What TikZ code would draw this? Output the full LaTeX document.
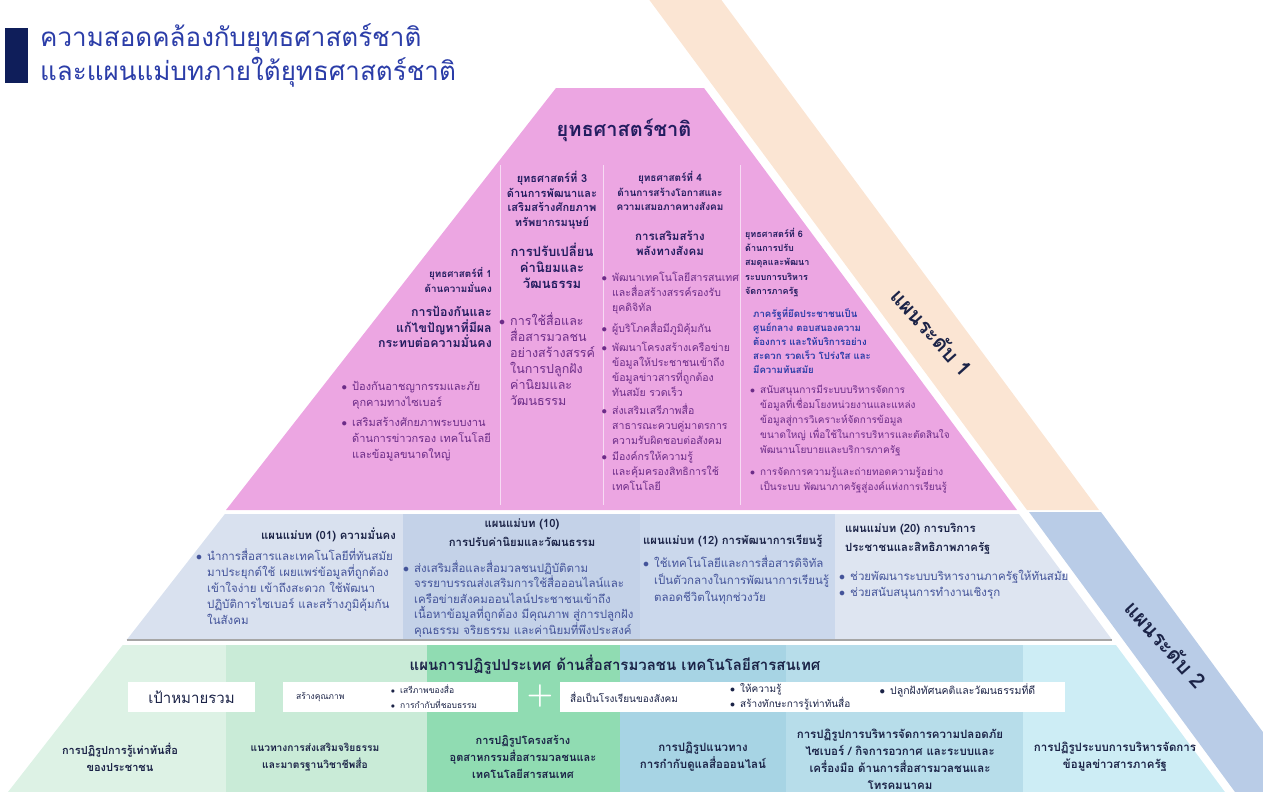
\documentclass[tikz,border=0pt]{standalone}
\usepackage{fontspec}
\newfontfamily\thaifont[Script=Thai]{Loma}
\usetikzlibrary{positioning}
\tikzset{>=latex}
\definecolor{pinkbg}{HTML}{ECA6E2}
\definecolor{peachbg}{HTML}{FBE5D3}
\definecolor{stripblue}{HTML}{B9CCE7}
\definecolor{midA}{HTML}{D9E1EF}
\definecolor{midB}{HTML}{C4D2E8}
\definecolor{midC}{HTML}{CBD8EC}
\definecolor{midD}{HTML}{DEE5F1}
\definecolor{lowA}{HTML}{DDF2E5}
\definecolor{lowB}{HTML}{C9EBD7}
\definecolor{lowC}{HTML}{90DCB2}
\definecolor{lowD}{HTML}{A7D4E4}
\definecolor{lowE}{HTML}{B7DDEA}
\definecolor{lowF}{HTML}{CDEDF5}
\definecolor{titleblue}{HTML}{2B3DA8}
\definecolor{barnavy}{HTML}{0F1E5A}
\definecolor{navytxt}{HTML}{231D60}
\definecolor{purptxt}{HTML}{6C2C88}
\definecolor{midtxt}{HTML}{44549A}
\definecolor{darktxt}{HTML}{1B2347}
\newcommand{\bul}{\llap{$\bullet$\hspace{5pt}}}
\newcommand{\fsz}[2]{\thaifont\fontsize{#1}{#2}\selectfont}

\begin{document}
\begin{tikzpicture}[x=1pt, y=-1pt, inner sep=0pt,
  ttl/.style = {font=\fsz{26}{34}, text=titleblue, anchor=west},
  apex/.style = {font=\bfseries\fsz{20}{24}, text=navytxt},
  shdr/.style = {font=\bfseries\fsz{9}{14.2}, text=navytxt},
  sgoal/.style = {font=\bfseries\fsz{11.5}{15}, text=navytxt},
  sbul/.style = {font=\fsz{10.5}{14.8}, text=purptxt, align=left, anchor=north west},
  mhdr/.style = {font=\bfseries\fsz{11.3}{19}, text=darktxt},
  mbul/.style = {font=\fsz{11.5}{15.5}, text=midtxt, align=left, anchor=north west},
  btxt/.style = {font=\bfseries\fsz{11}{17}, text=darktxt, align=center},
  wbox/.style = {fill=white, minimum height=30pt},
  small/.style = {font=\fsz{8.5}{15}, text=darktxt, align=left},
  lvl/.style = {font=\bfseries\fsz{21}{24}, text=darktxt, rotate=-48}
]
\useasboundingbox (0,0) rectangle (1263,792);
\clip (0,0) rectangle (1263,792);

% shapes
\fill[barnavy] (5,28) rectangle (28,83);
\fill[pinkbg] (556,88) -- (704,88) -- (1017,510) -- (226,510) -- cycle;
\fill[peachbg] (642,-10) -- (714,-10) -- (1099,510) -- (1027,510) -- cycle;
\fill[stripblue] (1029,512) -- (1101,512) -- (1307,792) -- (1235,792) -- cycle;
\foreach \x in {500,603,740}
  \draw[white!60!pinkbg, line width=1pt] (\x,165) -- (\x,505);

\begin{scope}
  \clip (224.9,514) -- (1019,514) -- (1112.2,640) -- (126.6,640) -- cycle;
  \fill[midA] (0,514) rectangle (403,640);
  \fill[midB] (403,514) rectangle (640,640);
  \fill[midC] (640,514) rectangle (835,640);
  \fill[midD] (835,514) rectangle (1263,640);
\end{scope}
\draw[gray!70, line width=1.5pt] (126.6,640) -- (1112.2,640);

\begin{scope}
  \clip (122.7,645) -- (1115.9,645) -- (1224.9,792) -- (8,792) -- cycle;
  \fill[lowA] (0,645) rectangle (226,792);
  \fill[lowB] (226,645) rectangle (427,792);
  \fill[lowC] (427,645) rectangle (620,792);
  \fill[lowD] (620,645) rectangle (786,792);
  \fill[lowE] (786,645) rectangle (1023,792);
  \fill[lowF] (1023,645) rectangle (1263,792);
\end{scope}

% title
\node[ttl] (title1) at (40,38) {ความสอดคล้องกับยุทธศาสตร์ชาติ};
\node[ttl] (title2) at (40,72) {และแผนแม่บทภายใต้ยุทธศาสตร์ชาติ};
\node[apex] (natstrat) at (624,130) {ยุทธศาสตร์ชาติ};

% strategy 1
\node[shdr, font=\bfseries\fsz{9.8}{15}, align=right, anchor=north east] (s1hdr) at (492,267) {ยุทธศาสตร์ที่ 1\\ด้านความมั่นคง};
\node[sgoal, font=\bfseries\fsz{12.4}{15.5}, align=right, anchor=north east] (s1goal) at (492,306) {การป้องกันและ\\แก้ไขปัญหาที่มีผล\\กระทบต่อความมั่นคง};
\node[sbul, font=\fsz{11}{16}] (s1b1) at (352,381) {\bul ป้องกันอาชญากรรมและภัย\\คุกคามทางไซเบอร์};
\node[sbul, font=\fsz{11}{16}, below=8pt of s1b1.south west, anchor=north west] (s1b2) {\bul เสริมสร้างศักยภาพระบบงาน\\ด้านการข่าวกรอง เทคโนโลยี\\และข้อมูลขนาดใหญ่};

% strategy 3
\node[shdr, font=\bfseries\fsz{11}{14.7}, align=center, anchor=north] (s3hdr) at (552,171) {ยุทธศาสตร์ที่ 3\\ด้านการพัฒนาและ\\เสริมสร้างศักยภาพ\\ทรัพยากรมนุษย์};
\node[sgoal, font=\bfseries\fsz{13}{16}, align=center, anchor=north] (s3goal) at (552,243) {การปรับเปลี่ยน\\ค่านิยมและ\\วัฒนธรรม};
\node[sbul, font=\fsz{12.5}{16}] (s3b1) at (510,312) {\bul การใช้สื่อและ\\สื่อสารมวลชน\\อย่างสร้างสรรค์\\ในการปลูกฝัง\\ค่านิยมและ\\วัฒนธรรม};

% strategy 4
\node[shdr, font=\bfseries\fsz{10}{14.7}, align=center, anchor=north] (s4hdr) at (670,171) {ยุทธศาสตร์ที่ 4\\ด้านการสร้างโอกาสและ\\ความเสมอภาคทางสังคม};
\node[sgoal, align=center, anchor=north] (s4goal) at (670,231) {การเสริมสร้าง\\พลังทางสังคม};
\node[sbul] (s4b1) at (612,272) {\bul พัฒนาเทคโนโลยีสารสนเทศ\\และสื่อสร้างสรรค์รองรับ\\ยุคดิจิทัล};
\node[sbul, below=7pt of s4b1.south west, anchor=north west] (s4b2) {\bul ผู้บริโภคสื่อมีภูมิคุ้มกัน};
\node[sbul, below=7pt of s4b2.south west, anchor=north west] (s4b3) {\bul พัฒนาโครงสร้างเครือข่าย\\ข้อมูลให้ประชาชนเข้าถึง\\ข้อมูลข่าวสารที่ถูกต้อง\\ทันสมัย รวดเร็ว};
\node[sbul, below=7pt of s4b3.south west, anchor=north west] (s4b4) {\bul ส่งเสริมเสรีภาพสื่อ\\สาธารณะควบคู่มาตรการ\\ความรับผิดชอบต่อสังคม};
\node[sbul, below=7pt of s4b4.south west, anchor=north west] (s4b5) {\bul มีองค์กรให้ความรู้\\และคุ้มครองสิทธิการใช้\\เทคโนโลยี};

% strategy 6
\node[shdr, align=left, anchor=north west] (s6hdr) at (745,228) {ยุทธศาสตร์ที่ 6\\ด้านการปรับ\\สมดุลและพัฒนา\\ระบบการบริหาร\\จัดการภาครัฐ};
\node[shdr, font=\bfseries\fsz{9.6}{14}, text=titleblue, align=left, anchor=north west] (s6goal) at (753,307) {ภาครัฐที่ยึดประชาชนเป็น\\ศูนย์กลาง ตอบสนองความ\\ต้องการ และให้บริการอย่าง\\สะดวก รวดเร็ว โปร่งใส และ\\มีความทันสมัย};
\node[sbul, font=\fsz{10}{15}] (s6b1) at (760,385) {\bul สนับสนุนการมีระบบบริหารจัดการ\\ข้อมูลที่เชื่อมโยงหน่วยงานและแหล่ง\\ข้อมูลสู่การวิเคราะห์จัดการข้อมูล\\ขนาดใหญ่ เพื่อใช้ในการบริหารและตัดสินใจ\\พัฒนานโยบายและบริการภาครัฐ};
\node[sbul, font=\fsz{10}{15.5}, below=10pt of s6b1.south west, anchor=north west] (s6b2) {\bul การจัดการความรู้และถ่ายทอดความรู้อย่าง\\เป็นระบบ พัฒนาภาครัฐสู่องค์แห่งการเรียนรู้};

% master plans
\node[mhdr, anchor=east] (mp01hdr) at (396,535) {แผนแม่บท (01) ความมั่นคง};
\node[mbul, font=\fsz{11.5}{16}] (mp01b) at (207,548) {\bul นำการสื่อสารและเทคโนโลยีที่ทันสมัย\\มาประยุกต์ใช้ เผยแพร่ข้อมูลที่ถูกต้อง\\เข้าใจง่าย เข้าถึงสะดวก ใช้พัฒนา\\ปฏิบัติการไซเบอร์ และสร้างภูมิคุ้มกัน\\ในสังคม};
\node[mhdr, align=center, anchor=north] (mp10hdr) at (522,519) {แผนแม่บท (10)\\การปรับค่านิยมและวัฒนธรรม};
\node[mbul] (mp10b) at (414,560) {\bul ส่งเสริมสื่อและสื่อมวลชนปฏิบัติตาม\\จรรยาบรรณส่งเสริมการใช้สื่อออนไลน์และ\\เครือข่ายสังคมออนไลน์ประชาชนเข้าถึง\\เนื้อหาข้อมูลที่ถูกต้อง มีคุณภาพ สู่การปลูกฝัง\\คุณธรรม จริยธรรม และค่านิยมที่พึงประสงค์};
\node[mhdr, anchor=west] (mp12hdr) at (643,541) {แผนแม่บท (12) การพัฒนาการเรียนรู้};
\node[mbul, font=\fsz{11.5}{17}] (mp12b) at (654,555) {\bul ใช้เทคโนโลยีและการสื่อสารดิจิทัล\\เป็นตัวกลางในการพัฒนาการเรียนรู้\\ตลอดชีวิตในทุกช่วงวัย};
\node[mhdr, align=left, anchor=north west] (mp20hdr) at (845,523) {แผนแม่บท (20) การบริการ\\ประชาชนและสิทธิภาพภาครัฐ};
\node[mbul] (mp20b) at (850,570) {\bul ช่วยพัฒนาระบบบริหารงานภาครัฐให้ทันสมัย\\\bul ช่วยสนับสนุนการทำงานเชิงรุก};

% reform plan
\node[font=\bfseries\fsz{15}{18}, text=darktxt] (reformhdr) at (615,665) {แผนการปฏิรูปประเทศ ด้านสื่อสารมวลชน เทคโนโลยีสารสนเทศ};
\node[wbox, minimum width=127pt, font=\fsz{15}{18}, text=darktxt] (goalbox) at (191.5,697) {เป้าหมายรวม};
\node[wbox, minimum width=235pt] (qualbox) at (400.5,697) {};
\node[small, anchor=west] (qual) at (296,697) {สร้างคุณภาพ};
\node[small, anchor=west] (qualitems) at (400,697) {\bul เสรีภาพของสื่อ\\\bul การกำกับที่ชอบธรรม};
\node[font=\bfseries\fontsize{30}{30}\selectfont, text=white] (plus) at (540,696) {+};
\node[wbox, minimum width=505pt] (schoolbox) at (812.5,697) {};
\node[small, font=\fsz{10}{15}, anchor=west] (school) at (570,697) {สื่อเป็นโรงเรียนของสังคม};
\node[small, font=\fsz{10}{15}, anchor=west] (schoolitems) at (740,697) {\bul ให้ความรู้\\\bul สร้างทักษะการรู้เท่าทันสื่อ};
\node[small, font=\fsz{10.5}{15}, anchor=west] (schoolitem3) at (890,690) {\bul ปลูกฝังทัศนคติและวัฒนธรรมที่ดี};

\node[btxt] (rf1) at (120,757) {การปฏิรูปการรู้เท่าทันสื่อ\\ของประชาชน};
\node[btxt, font=\bfseries\fsz{10.2}{17}] (rf2) at (315,757) {แนวทางการส่งเสริมจริยธรรม\\และมาตรฐานวิชาชีพสื่อ};
\node[btxt] (rf3) at (523,757) {การปฏิรูปโครงสร้าง\\อุตสาหกรรมสื่อสารมวลชนและ\\เทคโนโลยีสารสนเทศ};
\node[btxt, font=\bfseries\fsz{11.5}{17}] (rf4) at (703,757) {การปฏิรูปแนวทาง\\การกำกับดูแลสื่อออนไลน์};
\node[btxt, font=\bfseries\fsz{11.5}{17}] (rf5) at (900,759) {การปฏิรูปการบริหารจัดการความปลอดภัย\\ไซเบอร์ / กิจการอวกาศ และระบบและ\\เครื่องมือ ด้านการสื่อสารมวลชนและ\\โทรคมนาคม};
\node[btxt, font=\bfseries\fsz{11.5}{17}] (rf6) at (1115,757) {การปฏิรูประบบการบริหารจัดการ\\ข้อมูลข่าวสารภาครัฐ};

% levels
\node[lvl] (lvl1) at (932,332) {แผนระดับ 1};
\node[lvl] (lvl2) at (1166,644) {แผนระดับ 2};
\end{tikzpicture}
\end{document}
